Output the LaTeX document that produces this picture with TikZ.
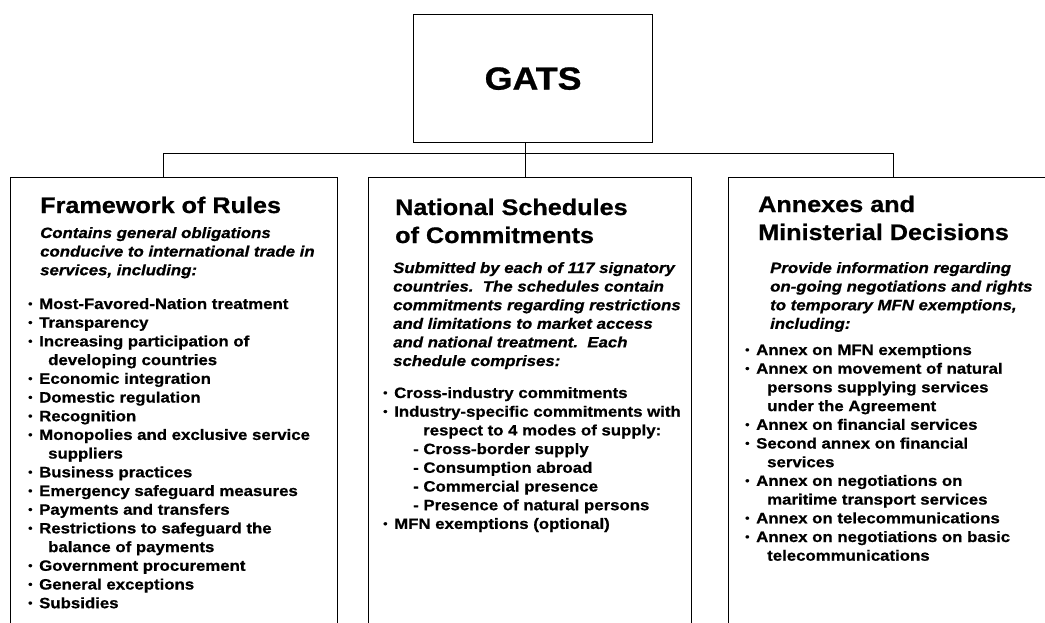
\documentclass[tikz,border=0pt]{standalone}
\usepackage{fontspec}
\setmainfont{Liberation Sans}[FakeStretch=1.12,BoldFeatures={FakeBold=0.8},BoldItalicFeatures={FakeBold=0.8}]

\newcommand{\bul}{\makebox[11pt][l]{\raisebox{1.5pt}{\fontsize{11}{11}\selectfont\textbullet}}}
\newcommand{\cont}[1][20pt]{\hspace*{#1}}

\begin{document}
\begin{tikzpicture}[x=1pt,y=-1pt]

	\tikzset{box/.style = {draw,line width=1pt,anchor=north west,minimum height=470pt,inner sep=0pt}}
	\tikzset{title/.style = {anchor=base west,inner sep=0pt,font=\fontsize{22.5}{28}\selectfont\bfseries}}
	\tikzset{desc/.style = {anchor=base west,inner sep=0pt,font=\fontsize{15}{18.6}\selectfont\bfseries\itshape}}
	\tikzset{items/.style = {anchor=base west,inner sep=0pt,font=\fontsize{15}{18.7}\selectfont\bfseries}}
	\tikzset{link/.style = {line width=1pt}}
	\path[use as bounding box,fill=white] (0,0) rectangle (1045,622);
	% boxes
	\node[draw,line width=1.2pt,minimum width=239pt,minimum height=128pt,anchor=north west,
	      font=\fontsize{32}{32}\selectfont\bfseries] (gats) at (413,14) {GATS};
	\node[box,minimum width=327pt] (rules) at (10,177) {};
	\node[box,minimum width=323pt] (sched) at (368,177) {};
	\node[box,minimum width=340pt] (annex) at (728,177) {};
	% connectors
	\coordinate (jl) at (163,153);
	\coordinate (jm) at (525,153);
	\coordinate (jr) at (893,153);
	\draw[link] (jl) -- (jr);
	\draw[link] (jl) -- (jl |- rules.north);
	\draw[link] (jr) -- (jr |- annex.north);
	\draw[link] (jm |- gats.south) -- (jm |- sched.north);
	% framework of rules
	\node[title] (rulesT) at (40,213) {Framework of Rules};
	\node[desc] (rulesD) at (40,238) {\parbox[t]{300pt}{Contains general obligations\\
		conducive to international trade in\\services, including:}};
	\node[items] (rulesL) at (28,309) {\parbox[t]{320pt}{\bul Most-Favored-Nation treatment\\
		\bul Transparency\\
		\bul Increasing participation of\\
		\cont developing countries\\
		\bul Economic integration\\
		\bul Domestic regulation\\
		\bul Recognition\\
		\bul Monopolies and exclusive service\\
		\cont suppliers\\
		\bul Business practices\\
		\bul Emergency safeguard measures\\
		\bul Payments and transfers\\
		\bul Restrictions to safeguard the\\
		\cont balance of payments\\
		\bul Government procurement\\
		\bul General exceptions\\
		\bul Subsidies}};
	% national schedules
	\node[title] (schedT) at (395,215) {\parbox[t]{300pt}{National Schedules\\of Commitments}};
	\node[desc] (schedD) at (393,273) {\parbox[t]{300pt}{Submitted by each of 117 signatory\\
		countries.\ \ The schedules contain\\
		commitments regarding restrictions\\
		and limitations to market access\\
		and national treatment.\ \ Each\\
		schedule comprises:}};
	\node[items] (schedL) at (383,398) {\parbox[t]{320pt}{\bul Cross-industry commitments\\
		\bul Industry-specific commitments with\\
		\cont[40pt]respect to 4 modes of supply:\\
		\cont[30pt]- Cross-border supply\\
		\cont[30pt]- Consumption abroad\\
		\cont[30pt]- Commercial presence\\
		\cont[30pt]- Presence of natural persons\\
		\bul MFN exemptions (optional)}};
	% annexes
	\node[title] (annexT) at (758,212) {\parbox[t]{300pt}{Annexes and\\Ministerial Decisions}};
	\node[desc] (annexD) at (770,273) {\parbox[t]{300pt}{Provide information regarding\\
		on-going negotiations and rights\\
		to temporary MFN exemptions,\\
		including:}};
	\node[items] (annexL) at (745,355) {\parbox[t]{320pt}{\bul Annex on MFN exemptions\\
		\bul Annex on movement of natural\\
		\cont[22pt]persons supplying services\\
		\cont[22pt]under the Agreement\\
		\bul Annex on financial services\\
		\bul Second annex on financial\\
		\cont[22pt]services\\
		\bul Annex on negotiations on\\
		\cont[22pt]maritime transport services\\
		\bul Annex on telecommunications\\
		\bul Annex on negotiations on basic\\
		\cont[22pt]telecommunications}};
\end{tikzpicture}
\end{document}
